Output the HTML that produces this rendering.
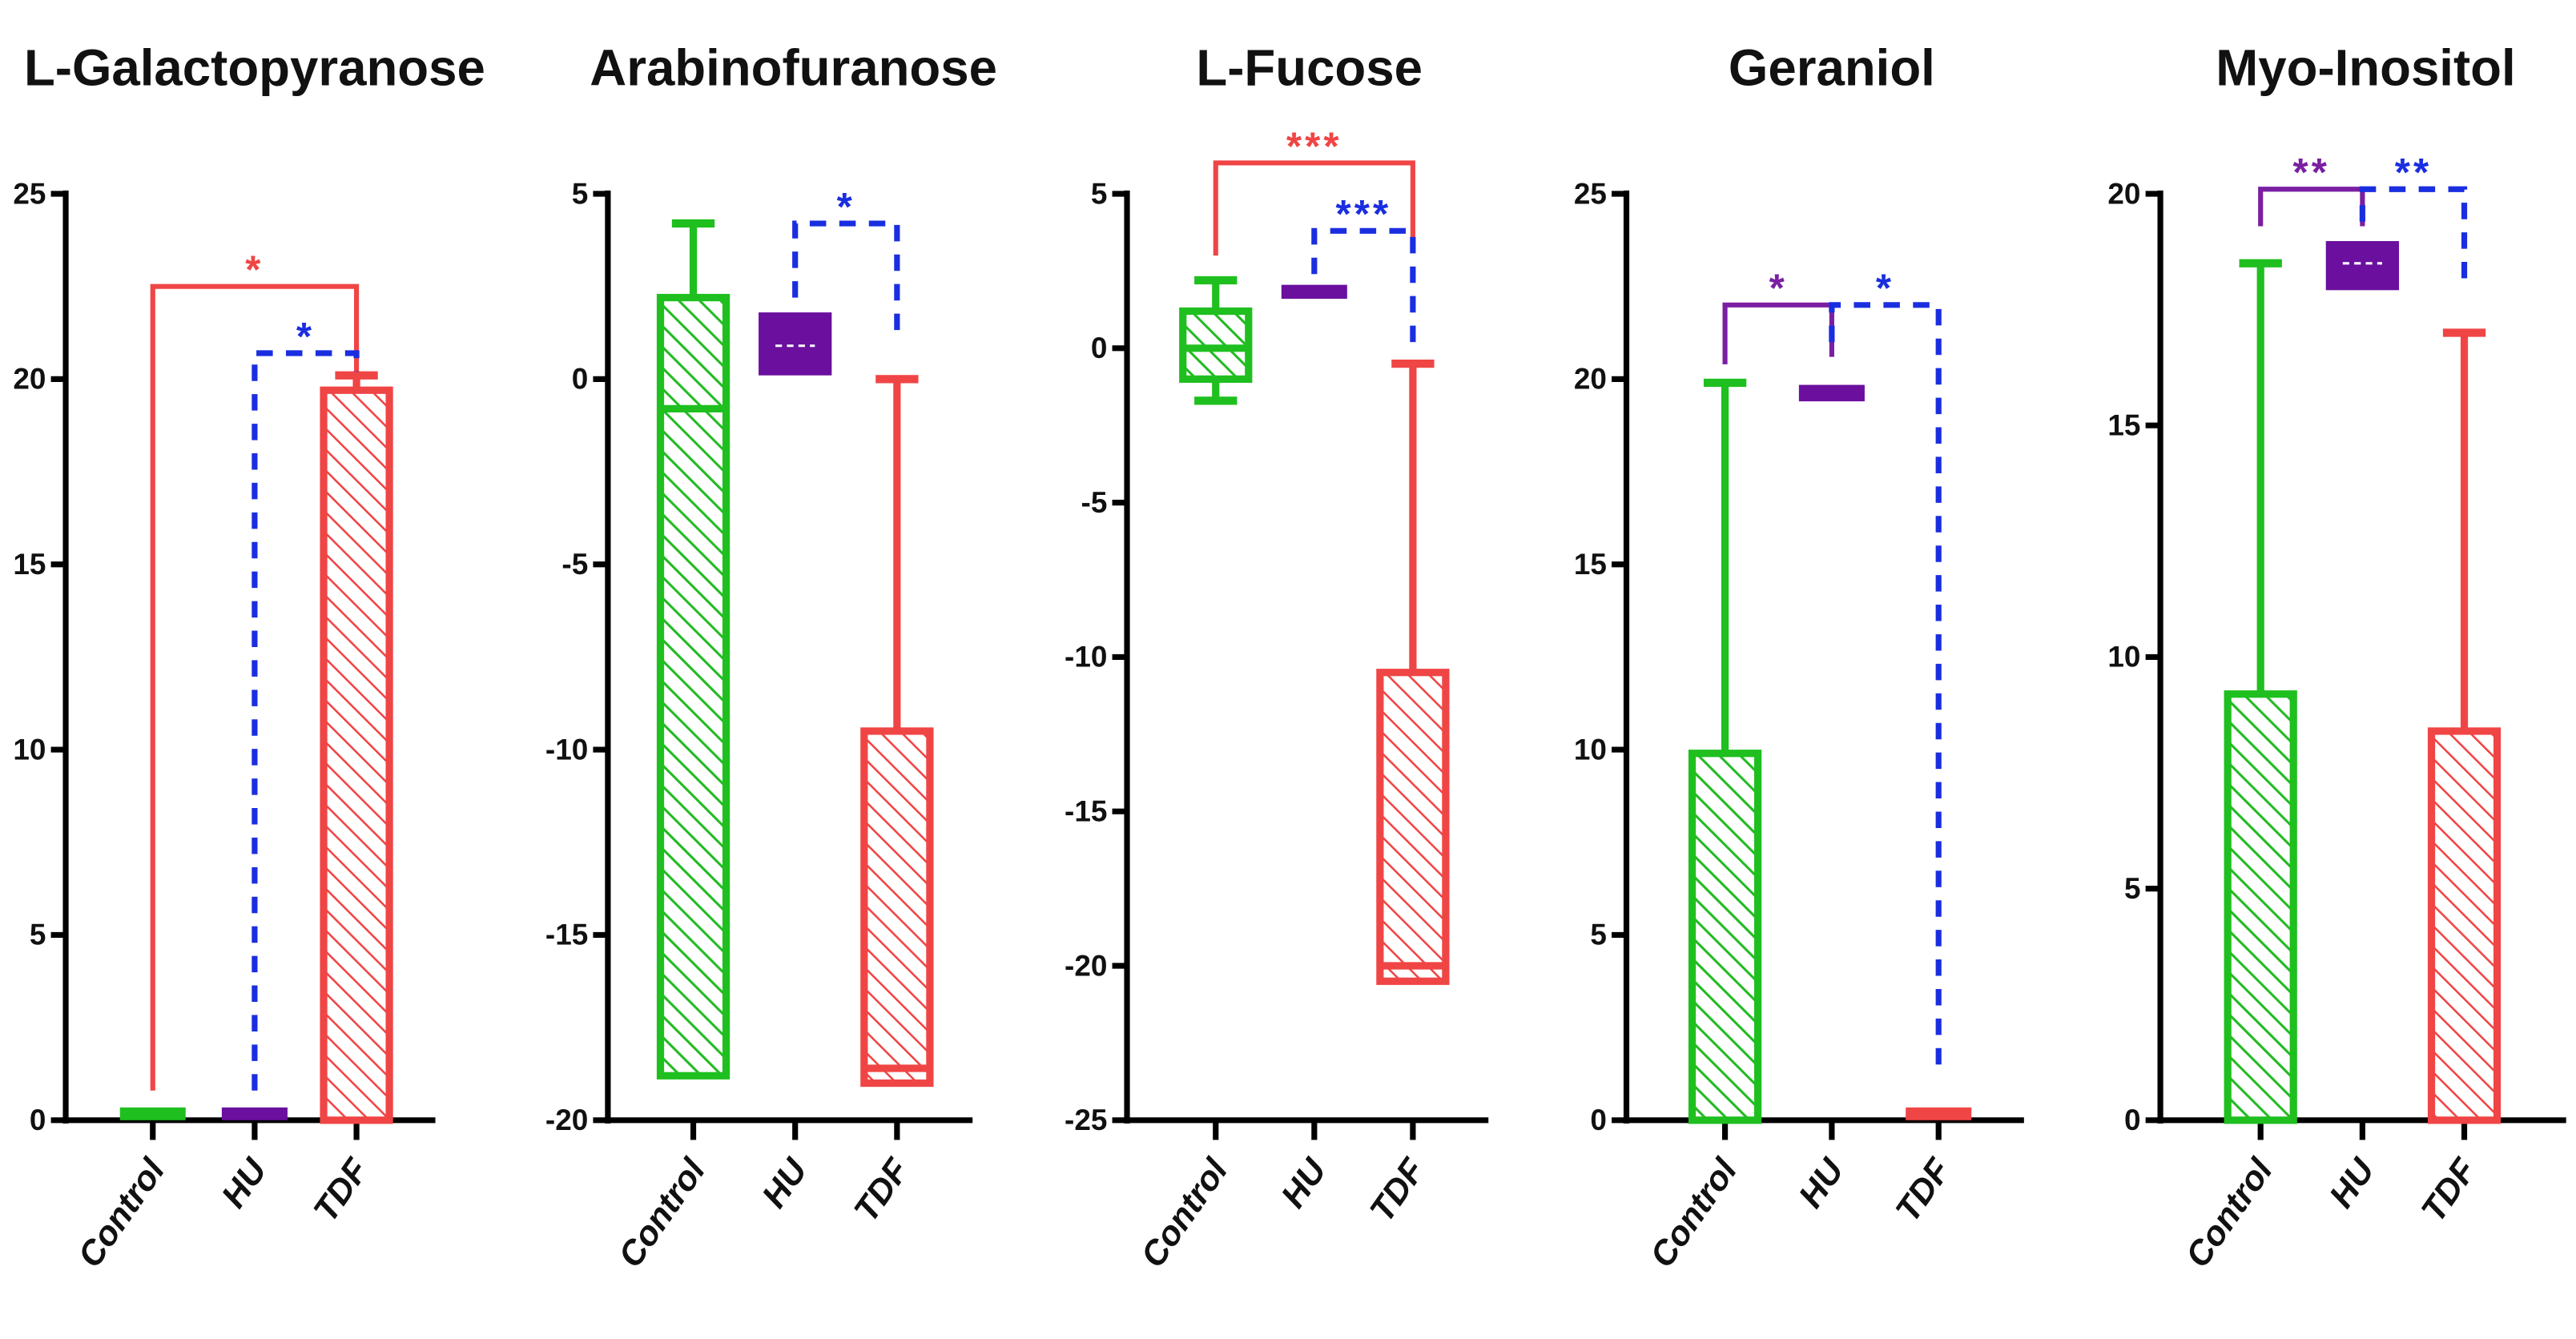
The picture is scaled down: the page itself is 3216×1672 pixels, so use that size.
<!DOCTYPE html>
<html><head><meta charset="utf-8">
<style>
html,body{margin:0;padding:0;background:#fff;}
svg{display:block;}
text{font-family:"Liberation Sans",Arial,sans-serif;}
</style></head>
<body>
<svg id="chart" width="3216" height="1672" viewBox="0 0 1568 815.2" xmlns="http://www.w3.org/2000/svg">
<defs>
<pattern id="hatch-green" patternUnits="userSpaceOnUse" width="9" height="9" patternTransform="rotate(-45)">
<rect width="9" height="9" fill="#fff"/><line x1="0" y1="0" x2="0" y2="9" stroke="#22bb22" stroke-width="3"/></pattern>
<pattern id="hatch-red" patternUnits="userSpaceOnUse" width="9" height="9" patternTransform="rotate(-45)">
<rect width="9" height="9" fill="#fff"/><line x1="0" y1="0" x2="0" y2="9" stroke="#f04545" stroke-width="2.5"/></pattern>
</defs>
</svg>
<script>
const categories = ["Control","HU","TDF"];
// L-Galactopyranose
const galBoxLow = [0, 0, 0];
const galBoxHigh = [0.3, 0.3, 19.7];
const galMedian = [null, null, null];
const galWhiskLow = [null, null, null];
const galWhiskHigh = [null, null, 20.1];
// Arabinofuranose
const araBoxLow = [-18.8, 0.2, -19];
const araBoxHigh = [2.2, 1.7, -9.5];
const araMedian = [-0.8, 0.9, -18.6];
const araWhiskLow = [null, null, null];
const araWhiskHigh = [4.2, null, 0];
// L-Fucose
const fucBoxLow = [-1, 1.6, -20.5];
const fucBoxHigh = [1.2, 2.0, -10.5];
const fucMedian = [0, null, -20];
const fucWhiskLow = [-1.7, null, null];
const fucWhiskHigh = [2.2, null, -0.5];
// Geraniol
const gerBoxLow = [0, 19.4, 0];
const gerBoxHigh = [9.9, 19.8, 0.3];
const gerMedian = [null, null, null];
const gerWhiskLow = [null, null, null];
const gerWhiskHigh = [19.9, null, null];
// Myo-Inositol
const myoBoxLow = [0, 18.0, 0];
const myoBoxHigh = [9.2, 18.9, 8.4];
const myoMedian = [null, 18.5, null];
const myoWhiskLow = [null, null, null];
const myoWhiskHigh = [18.5, null, 17];

const galTicks = [0,5,10,15,20,25];
const araTicks = [-20,-15,-10,-5,0,5];
const fucTicks = [-25,-20,-15,-10,-5,0,5];
const gerTicks = [0,5,10,15,20,25];
const myoTicks = [0,5,10,15,20];

// significance brackets: [fromIdx, toIdx, fromY, topY, toY, label, color, dashed]
const galSig = [[0,2,0.8,22.5,20.2,"*","#f04545",false],[1,2,0.8,20.7,20.2,"*","#1a2ee0",true]];
const araSig = [[1,2,2.2,4.2,1.0,"*","#1a2ee0",true]];
const fucSig = [[0,2,3.0,6.0,3.5,"***","#f04545",false],[1,2,2.4,3.8,0.0,"***","#1a2ee0",true]];
const gerSig = [[0,1,20.4,22.0,20.6,"*","#7a1fa2",false],[1,2,21.0,22.0,1.5,"*","#1a2ee0",true]];
const myoSig = [[0,1,19.3,20.1,19.3,"**","#7a1fa2",false],[1,2,19.4,20.1,18.1,"**","#1a2ee0",true]];

const panels = [
 {name:"l-galactopyranose",title:"L-Galactopyranose",titleX:155,ax:40,axEnd:265,cats:[93,155,217],min:0,max:25,ticks:galTicks,lo:galBoxLow,hi:galBoxHigh,med:galMedian,wl:galWhiskLow,wh:galWhiskHigh,sig:galSig},
 {name:"arabinofuranose",title:"Arabinofuranose",titleX:483,ax:370,axEnd:592,cats:[422,484,546],min:-20,max:5,ticks:araTicks,lo:araBoxLow,hi:araBoxHigh,med:araMedian,wl:araWhiskLow,wh:araWhiskHigh,sig:araSig},
 {name:"l-fucose",title:"L-Fucose",titleX:797,ax:686,axEnd:906,cats:[740,800,860],min:-25,max:5,ticks:fucTicks,lo:fucBoxLow,hi:fucBoxHigh,med:fucMedian,wl:fucWhiskLow,wh:fucWhiskHigh,sig:fucSig},
 {name:"geraniol",title:"Geraniol",titleX:1115,ax:990,axEnd:1232,cats:[1050,1115,1180],min:0,max:25,ticks:gerTicks,lo:gerBoxLow,hi:gerBoxHigh,med:gerMedian,wl:gerWhiskLow,wh:gerWhiskHigh,sig:gerSig},
 {name:"myo-inositol",title:"Myo-Inositol",titleX:1440,ax:1315,axEnd:1562,cats:[1376,1438,1500],min:0,max:20,ticks:myoTicks,lo:myoBoxLow,hi:myoBoxHigh,med:myoMedian,wl:myoWhiskLow,wh:myoWhiskHigh,sig:myoSig}
];
const colors = ["#1fbf1f","#6a0f9e","#f04545"];
const fills = ["url(#hatch-green)","#6a0f9e","url(#hatch-red)"];
const Y0 = 682, Y1 = 118;
const svg = document.getElementById('chart');
const NS = "http://www.w3.org/2000/svg";
function mk(tag, attrs, parent){
  const e = document.createElementNS(NS, tag);
  for (const k in attrs) e.setAttribute(k, attrs[k]);
  (parent||svg).appendChild(e);
  return e;
}
panels.forEach(p => {
  const g = mk('g', {});
  
  
  const y = v => Y0 - (v - p.min) / (p.max - p.min) * (Y0 - Y1);
  const t = mk('text', {x:p.titleX, y:52, 'text-anchor':'middle', 'font-size':31, 'font-weight':'bold', fill:'#111'}, g);
  t.textContent = p.title;
  
  
  const ya = mk('line', {x1:p.ax, y1:Y1-2, x2:p.ax, y2:Y0+2, stroke:'#000', 'stroke-width':3.5}, g);
  
  
  const xa = mk('line', {x1:p.ax-2, y1:Y0, x2:p.axEnd, y2:Y0, stroke:'#000', 'stroke-width':3.5}, g);
  
  
  p.ticks.forEach(v => {
    mk('line', {x1:p.ax-9, y1:y(v), x2:p.ax, y2:y(v), stroke:'#000', 'stroke-width':3.5}, g);
    const tl = mk('text', {x:p.ax-12, y:y(v)+6, 'text-anchor':'end', 'font-size':18, 'font-weight':'bold', fill:'#111'}, g);
    tl.textContent = v;
    
    
  });
  categories.forEach((c, i) => {
    const cx = p.cats[i];
    mk('line', {x1:cx, y1:Y0, x2:cx, y2:Y0+12, stroke:'#000', 'stroke-width':3.5}, g);
    const xl = mk('text', {x:cx+8, y:Y0+30, 'text-anchor':'end', 'font-size':21, 'font-weight':'bold', 'font-style':'italic', fill:'#111', transform:`rotate(-55 ${cx+8} ${Y0+30})`}, g);
    xl.textContent = c;
    
    
    const bw = 44, cw = 26;
    if (p.wh[i] !== null) {
      mk('line', {x1:cx, y1:y(p.hi[i]), x2:cx, y2:y(p.wh[i]), stroke:colors[i], 'stroke-width':4.5}, g);
      mk('line', {x1:cx-cw/2, y1:y(p.wh[i]), x2:cx+cw/2, y2:y(p.wh[i]), stroke:colors[i], 'stroke-width':5}, g);
    }
    if (p.wl[i] !== null) {
      mk('line', {x1:cx, y1:y(p.lo[i]), x2:cx, y2:y(p.wl[i]), stroke:colors[i], 'stroke-width':4.5}, g);
      mk('line', {x1:cx-cw/2, y1:y(p.wl[i]), x2:cx+cw/2, y2:y(p.wl[i]), stroke:colors[i], 'stroke-width':5}, g);
    }
    const top = y(p.hi[i]), bot = y(p.lo[i]);
    const h = bot - top;
    let box;
    if (h < 12) {
      box = mk('rect', {x:cx-bw/2+2, y:top-1, width:bw-4, height:Math.max(h,4)+1, fill:colors[i]}, g);
    } else {
      box = mk('rect', {x:cx-bw/2+2, y:top, width:bw-4, height:h, fill:fills[i], stroke:colors[i], 'stroke-width':4.5}, g);
    }
    
    
    if (p.med[i] !== null) {
      if (i === 1) {
        mk('line', {x1:cx-12, y1:y(p.med[i]), x2:cx+12, y2:y(p.med[i]), stroke:'#fff', 'stroke-width':1.5, 'stroke-dasharray':'4 3'}, g);
      } else {
        mk('line', {x1:cx-bw/2+2, y1:y(p.med[i]), x2:cx+bw/2-2, y2:y(p.med[i]), stroke:colors[i], 'stroke-width':4.5}, g);
      }
    }
  });
  p.sig.forEach(s => {
    const [a, b, fy, ty, by, lab, col, dashed] = s;
    const xa_ = p.cats[a], xb_ = p.cats[b];
    const path = mk('path', {d:`M${xa_},${y(fy)} V${y(ty)} H${xb_} V${y(by)}`, fill:'none', stroke:col, 'stroke-width':dashed?3.5:3, 'stroke-dasharray':dashed?'10 8':'none'}, g);
    
    
    const st = mk('text', {x:(xa_+xb_)/2, y:y(ty)-2, 'text-anchor':'middle', 'font-size':24, 'font-weight':'bold', fill:col, 'letter-spacing':2}, g);
    st.textContent = lab;
    
    
  });
});
</script>
</body></html>
